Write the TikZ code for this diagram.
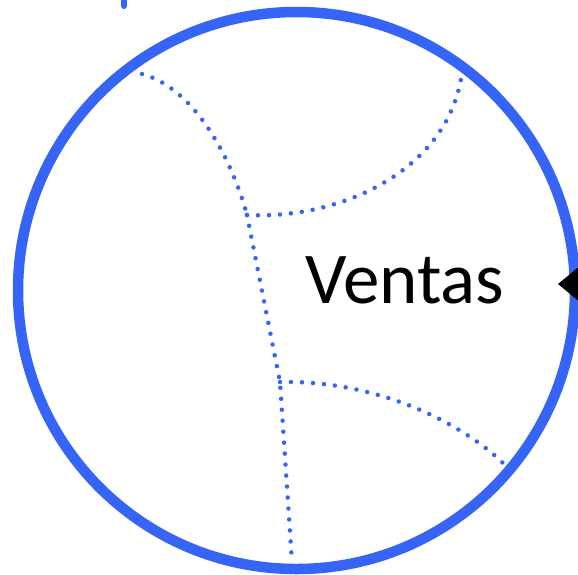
\documentclass[tikz,border=0pt]{standalone}
\usepackage{fontspec}
\setmainfont{Carlito}
\usepackage{tikz}
\usetikzlibrary{arrows.meta,positioning}
\definecolor{vblue}{HTML}{3664F6}
\tikzset{
  ring/.style={circle, draw=vblue, line width=10.5pt, minimum size=557pt, inner sep=0pt},
  flow/.style={-{Triangle[length=22pt,width=36pt]}, line width=1pt, draw=black},
  lbl/.style={font=\fontsize{73}{80}\selectfont, text=black, inner sep=0pt},
  dotpath/.style={draw=vblue, line width=4.5pt, line cap=round, dash pattern=on 0pt off 11pt}
}
\begin{document}
\begin{tikzpicture}[x=1pt,y=-1pt]
  \useasboundingbox (0,0) rectangle (578,574);
  \node[ring] (sales) at (296.5,290.5) {};
  \node[lbl, anchor=base] (name) at (405,303) {Ventas};
  % partition lines
  \coordinate (tl) at (142,74);
  \coordinate (tr) at (462,72);
  \coordinate (j1) at (247,215);
  \coordinate (j2) at (280,382);
  \coordinate (br) at (505,465);
  \coordinate (bt) at (292,562);
  \draw[dotpath] (tl) .. controls (200,90) and (235,170) .. (j1);
  \draw[dotpath] (j1) -- (j2) -- (bt);
  \draw[dotpath] (j1) .. controls (340,220) and (450,170) .. (tr);
  \draw[dotpath] (j2) .. controls (380,380) and (465,425) .. (br);
  % incoming connectors (cut at the edge)
  \coordinate (src) at (640,284);
  \coordinate (tip) at (558,284);
  \draw[flow] (src) -- (tip);
  \coordinate (up) at (124,-10);
  \coordinate (upend) at (124,6);
  \draw[vblue, line width=6pt, line cap=round] (up) -- (upend);
\end{tikzpicture}
\end{document}
